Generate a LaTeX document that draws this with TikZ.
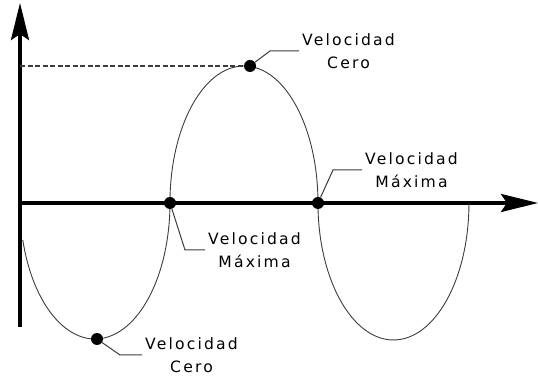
\documentclass[tikz,border=0pt]{standalone}
\usepackage{fontspec}
\setmainfont{DejaVu Sans}[LetterSpace=14]
\usetikzlibrary{arrows.meta, positioning}
\definecolor{gris_linea}{RGB}{60, 60, 60}

\begin{document}
\begin{tikzpicture}[x=1pt, y=1pt, font=\fontsize{15.6}{23}\selectfont,
    eje/.style={line width=4pt, -{Stealth[length=37pt, width=18pt, inset=6pt]}},
    curva/.style={line width=0.9pt, gris_linea},
    punto/.style={circle, fill=black, inner sep=0pt, minimum size=12pt},
    guia/.style={line width=1pt, gris_linea},
    discontinua/.style={line width=1.1pt, gris_linea, dash pattern=on 5pt off 2.5pt},
    etiqueta/.style={anchor=west, align=center, inner sep=3pt}]

      \useasboundingbox (0,0) rectangle (538,380);

      % 1. Ejes
      \coordinate (ejeY0) at (20,53);
      \coordinate (ejeY1) at (20,377);
      \coordinate (ejeX0) at (18,177);
      \coordinate (ejeX1) at (538,177);
      \draw[eje] (ejeY0) -- (ejeY1);
      \draw[eje] (ejeX0) -- (ejeX1);

      % 2. Curva (semielipses)
      \draw[curva] (22.8,140)
        arc[start angle=195.8, end angle=360, x radius=75, y radius=136]
        arc[start angle=180, end angle=0, x radius=74, y radius=137]
        arc[start angle=180, end angle=360, x radius=75.5, y radius=137];

      % 3. Puntos
      \node[punto] (ceroAbajo) at (97,41) {};
      \node[punto] (maxIzq) at (170,177) {};
      \node[punto] (ceroArriba) at (250,314) {};
      \node[punto] (maxDer) at (318,177) {};

      \draw[discontinua] (ejeY0 |- ceroArriba) -- (ceroArriba);

      % 4. Etiquetas
      \node[etiqueta] (txtArriba) at (299,329) {Velocidad\\Cero};
      \node[etiqueta] (txtDer) at (362,210) {Velocidad\\Máxima};
      \node[etiqueta] (txtMedio) at (205,130) {Velocidad\\Máxima};
      \node[etiqueta] (txtAbajo) at (142,25) {Velocidad\\Cero};

      \draw[guia] (ceroArriba) -- ([xshift=-29pt]txtArriba.west) -- (txtArriba.west);
      \draw[guia] (maxDer) -- ([xshift=-29pt]txtDer.west) -- (txtDer.west);
      \draw[guia] (maxIzq) -- ([xshift=-20pt]txtMedio.west) -- (txtMedio.west);
      \draw[guia] (ceroAbajo) -- ([xshift=-22pt]txtAbajo.west) -- (txtAbajo.west);

\end{tikzpicture}
\end{document}
